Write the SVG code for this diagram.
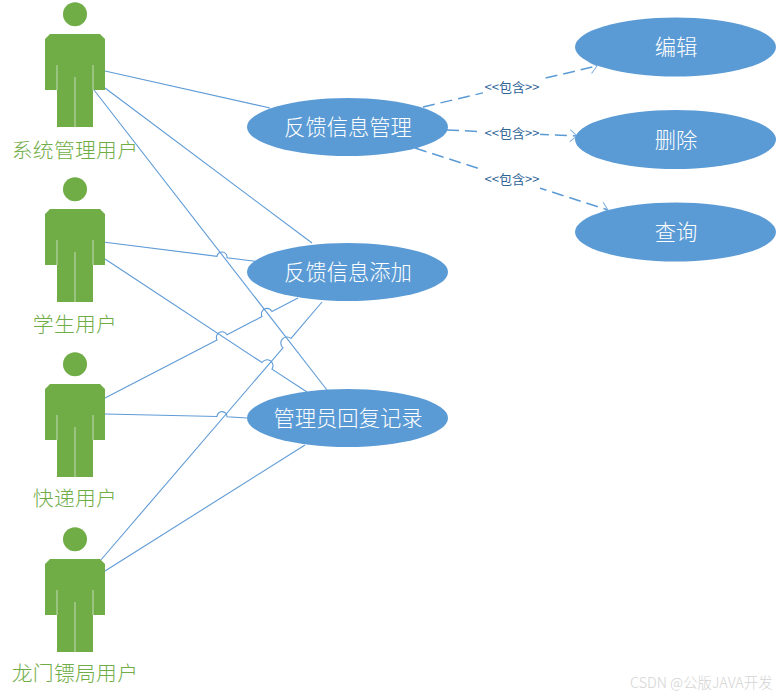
<svg xmlns="http://www.w3.org/2000/svg" width="778" height="696" viewBox="0 0 778 696">
<style>
.cn{font-family:"Noto Sans CJK SC","Liberation Sans",sans-serif;text-anchor:middle;dominant-baseline:central;font-weight:300}
.use{fill:#5b9bd5}
.ut{fill:#fff;font-size:21.3px}
.at{fill:#70ad47;font-size:20.8px;letter-spacing:.3px}
.lk{fill:none;stroke:#5f9bd6;stroke-width:1.1}
.dp{fill:none;stroke:#5b9bd5;stroke-width:1.5;stroke-dasharray:12 6;marker-end:url(#open)}
.cn.lb{fill:#2f6497;font-size:13px;font-weight:400}
.bg{fill:#fff}
.wm{fill:#d4d4d4;font-size:14.4px;text-anchor:start}
</style>
<defs>
<marker id="open" markerUnits="userSpaceOnUse" markerWidth="14" markerHeight="14" refX="12" refY="7" orient="auto"><path d="M5 1 L12 7 L5 13" fill="none" stroke="#7eaedd" stroke-width="1"/></marker>
<g id="actor">
<circle cx="75" cy="14.3" r="12" fill="#70ad47"/>
<path d="M50 34H100L105 39V90H93V127H57V90H45V39Z" fill="#70ad47"/>
<path d="M57 65V90M93 65V90M75 77V127" fill="none" stroke="#b5d5a3" stroke-width="1.2"/>
</g>
</defs>
<rect width="778" height="696" fill="#fff"/>
<g id="connectors">
<path class="lk" d="M105 71L270 108"/>
<path class="lk" d="M105 88L312 243"/>
<path class="lk" d="M94 90L327 390"/>
<path class="lk" d="M105 242.2L217 256.4A5 5 0 0 1 227 257.7L255 261.2"/>
<path class="lk" d="M105 259L262 362.5A5 5 0 0 1 272 369.1L307 392"/>
<path class="lk" d="M105 398L217 340A5 5 0 0 1 227 334.8L262 316.6A5 5 0 0 1 272 311.4L298 298"/>
<path class="lk" d="M105 414L217 416.5A5 5 0 0 1 227 416.8L247 418"/>
<path class="lk" d="M100 561L283 347.800A6 6 0 0 1 291 338.400L322 302"/>
<path class="lk" d="M105 571L305 445"/>
<path class="dp" d="M423 107L597 66"/>
<path class="dp" d="M447 130L577 136"/>
<path class="dp" d="M415 148L608 210"/>
<rect class="bg" x="483" y="76" width="57" height="20"/>
<rect class="bg" x="483" y="122" width="57" height="20"/>
<rect class="bg" x="483" y="166" width="57" height="24"/>
<text class="cn lb" x="512" y="86">&lt;&lt;包含&gt;&gt;</text>
<text class="cn lb" x="512" y="132">&lt;&lt;包含&gt;&gt;</text>
<text class="cn lb" x="512" y="178">&lt;&lt;包含&gt;&gt;</text>
</g>
<g id="actor-admin"><use href="#actor"/><text class="cn at" x="75" y="149">系统管理用户</text></g>
<g id="actor-student"><use href="#actor" y="175"/><text class="cn at" x="75" y="323">学生用户</text></g>
<g id="actor-express"><use href="#actor" y="350"/><text class="cn at" x="75" y="497">快递用户</text></g>
<g id="actor-longmen"><use href="#actor" y="525"/><text class="cn at" x="75" y="672">龙门镖局用户</text></g>
<g id="uc-manage"><ellipse class="use" cx="347.500" cy="127" rx="100.500" ry="29"/><text class="cn ut" x="348" y="125.500">反馈信息管理</text></g>
<g id="uc-add"><ellipse class="use" cx="347.500" cy="272" rx="100.500" ry="29"/><text class="cn ut" x="348" y="270.500">反馈信息添加</text></g>
<g id="uc-reply"><ellipse class="use" cx="347.500" cy="418" rx="100.500" ry="29"/><text class="cn ut" x="348" y="416.500">管理员回复记录</text></g>
<g id="uc-edit"><ellipse class="use" cx="675.500" cy="47" rx="100.500" ry="29.500"/><text class="cn ut" x="676" y="45.500">编辑</text></g>
<g id="uc-delete"><ellipse class="use" cx="675.500" cy="139.500" rx="100.500" ry="29.500"/><text class="cn ut" x="676" y="138.500">删除</text></g>
<g id="uc-query"><ellipse class="use" cx="675.500" cy="232" rx="100.500" ry="29.500"/><text class="cn ut" x="676" y="230.500">查询</text></g>
<text class="cn wm" x="630" y="681">CSDN @公版JAVA开发</text>
</svg>
